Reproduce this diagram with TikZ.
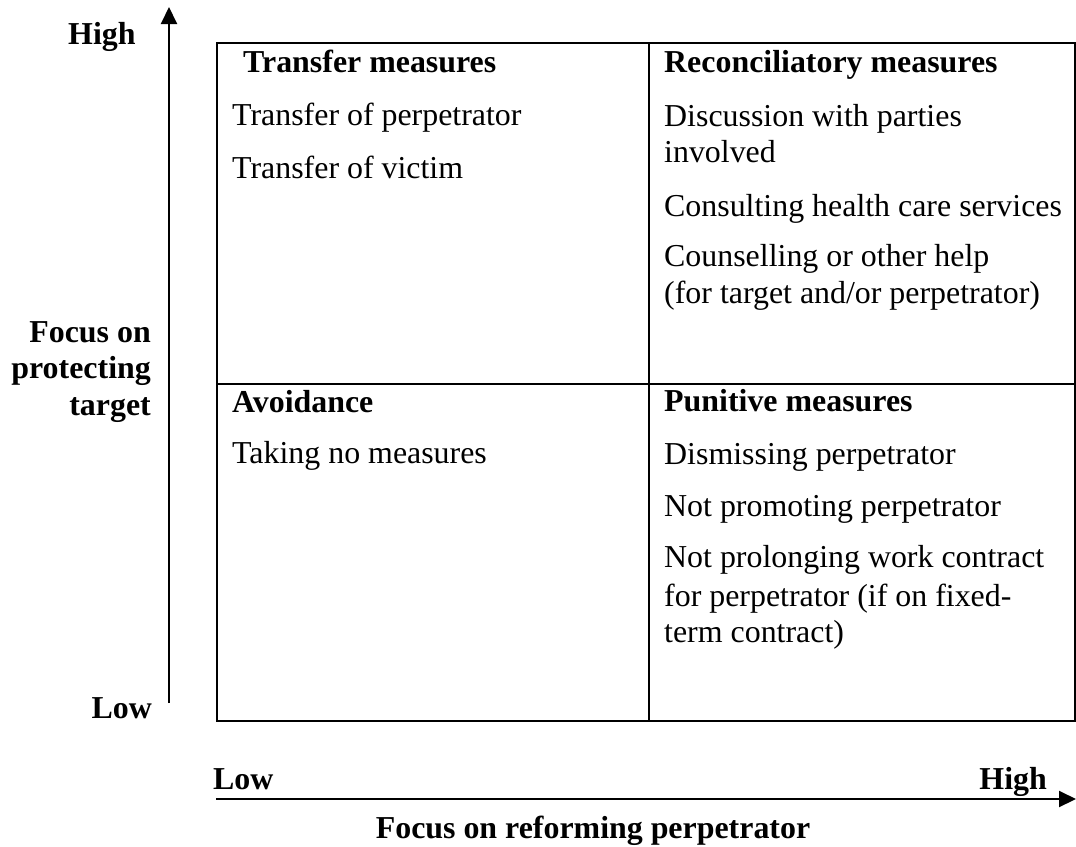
\documentclass[tikz,border=0pt]{standalone}
\usepackage{fontspec}
\setmainfont{Liberation Serif}
\usetikzlibrary{arrows.meta}
\newcommand\qfont{\fontsize{31.9}{37}\selectfont}
\begin{document}
\begin{tikzpicture}[x=1pt,y=-1pt,
  txt/.style={anchor=base west,inner sep=0pt,font=\qfont},
  head/.style={txt,font=\qfont\bfseries},
  axlbl/.style={inner sep=0pt,font=\qfont\bfseries},
  frame/.style={line width=2pt,black},
  axis/.style={line width=2pt,-{Triangle[length=17pt,width=16pt]}}]
\useasboundingbox (0,0) rectangle (1076,846);
% grid
\coordinate (tl) at (217,43);
\coordinate (br) at (1075,721);
\coordinate (mt) at (649,43);
\coordinate (mb) at (649,721);
\coordinate (ml) at (217,384);
\coordinate (mr) at (1075,384);
\draw[frame] (tl) rectangle (br);
\draw[frame] (mt) -- (mb);
\draw[frame] (ml) -- (mr);
% axes
\coordinate (ys) at (169,703);
\coordinate (ye) at (169,7);
\coordinate (xs) at (216,799);
\coordinate (xe) at (1076,799);
\draw[axis] (ys) -- (ye);
\draw[axis] (xs) -- (xe);
% axis labels
\node[axlbl,anchor=base west] (yhigh) at (68,44) {High};
\node[axlbl,anchor=base east] (ylow) at (152,718) {Low};
\node[axlbl,anchor=base east] (yl1) at (151,342) {Focus on};
\node[axlbl,anchor=base east] (yl2) at (151,378) {protecting};
\node[axlbl,anchor=base east] (yl3) at (151,415) {target};
\node[axlbl,anchor=base west] (xlow) at (213,789) {Low};
\node[axlbl,anchor=base east] (xhigh) at (1047,789) {High};
\node[axlbl,anchor=base] (xl) at (593,838) {Focus on reforming perpetrator};
% top-left
\node[head] (h1) at (243,72) {Transfer measures};
\node[txt] (a1) at (232,125) {Transfer of perpetrator};
\node[txt] (a2) at (232,178) {Transfer of victim};
% top-right
\node[head] (h2) at (664,72) {Reconciliatory measures};
\node[txt] (b1) at (664,126) {Discussion with parties};
\node[txt] (b2) at (664,162) {involved};
\node[txt] (b3) at (664,216) {Consulting health care services};
\node[txt] (b4) at (664,266) {Counselling or other help};
\node[txt] (b5) at (664,303) {(for target and/or perpetrator)};
% bottom-left
\node[head] (h3) at (232,412) {Avoidance};
\node[txt] (c1) at (232,463) {Taking no measures};
% bottom-right
\node[head] (h4) at (664,411) {Punitive measures};
\node[txt] (d1) at (664,464) {Dismissing perpetrator};
\node[txt] (d2) at (664,516) {Not promoting perpetrator};
\node[txt] (d3) at (664,567) {Not prolonging work contract};
\node[txt] (d4) at (664,606) {for perpetrator (if on fixed-};
\node[txt] (d5) at (664,642) {term contract)};
\end{tikzpicture}
\end{document}
